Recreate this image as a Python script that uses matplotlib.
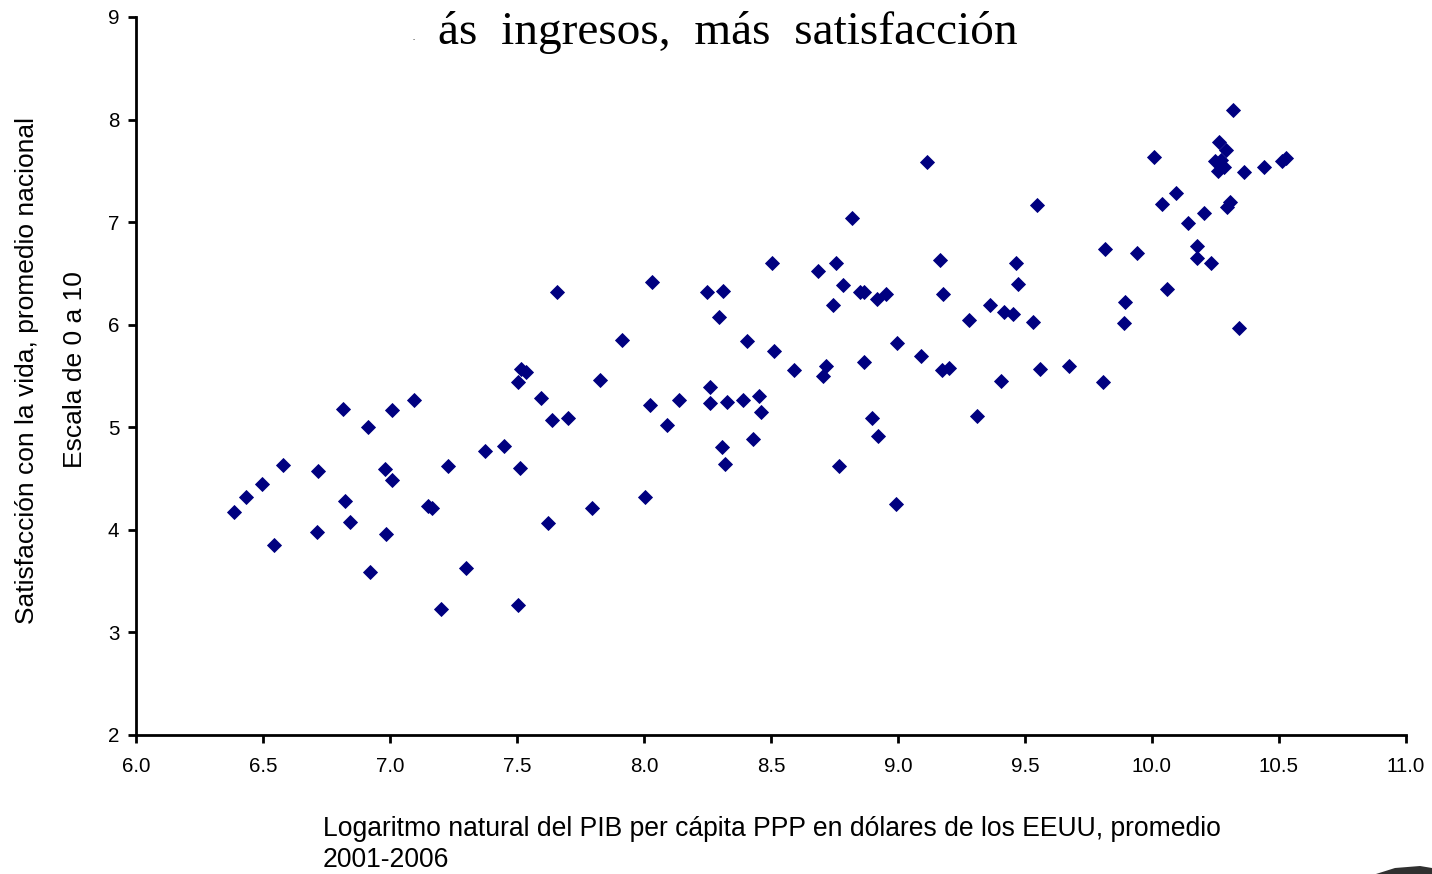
import matplotlib
matplotlib.use("Agg")
import matplotlib.pyplot as plt
from matplotlib.patches import Polygon

# Log GDP per capita (x) and life satisfaction (y)
log_gdp = [
    6.386, 6.433, 6.496, 6.579, 6.543, 6.717, 6.713, 6.815, 6.823, 6.843,
    6.913, 6.921, 6.980, 7.008, 6.984, 7.008, 7.094, 7.150, 7.165, 7.228,
    7.201, 7.299, 7.374, 7.449, 7.504, 7.512, 7.504, 7.516, 7.535, 7.594,
    7.622, 7.638, 7.657, 7.701, 7.795, 7.827, 7.913, 8.004, 8.024, 8.031,
    8.091, 8.138, 8.248, 8.311, 8.295, 8.260, 8.260, 8.327, 8.390, 8.307,
    8.319, 8.406, 8.429, 8.453, 8.461, 8.504, 8.512, 8.591, 8.685, 8.705,
    8.717, 8.756, 8.744, 8.783, 8.768, 8.819, 8.850, 8.866, 8.866, 8.898,
    8.917, 8.953, 8.921, 8.996, 8.992, 9.091, 9.114, 9.165, 9.177, 9.173,
    9.200, 9.280, 9.311, 9.362, 9.406, 9.417, 9.453, 9.465, 9.472, 9.531,
    9.547, 9.559, 9.673, 9.807, 9.815, 9.890, 9.894, 9.941, 10.008, 10.039,
    10.059, 10.094, 10.142, 10.177, 10.177, 10.205, 10.232, 10.264, 10.291, 10.248,
    10.272, 10.260, 10.283, 10.307, 10.295, 10.319, 10.343, 10.362, 10.441, 10.512,
    10.528,
]
satisfaction = [
    4.174, 4.320, 4.447, 4.632, 3.852, 4.574, 3.979, 5.178, 4.281, 4.077,
    5.000, 3.589, 4.593, 4.486, 3.960, 5.166, 5.266, 4.233, 4.213, 4.623,
    3.228, 3.628, 4.769, 4.817, 3.267, 4.603, 5.441, 5.568, 5.539, 5.285,
    4.067, 5.071, 6.319, 5.090, 4.213, 5.461, 5.851, 4.320, 5.217, 6.416,
    5.022, 5.266, 6.319, 6.329, 6.075, 5.393, 5.237, 5.246, 5.266, 4.808,
    4.642, 5.841, 4.886, 5.305, 5.149, 6.602, 5.744, 5.558, 6.524, 5.500,
    5.597, 6.602, 6.192, 6.387, 4.623, 7.040, 6.319, 6.319, 5.636, 5.090,
    6.251, 6.300, 4.915, 5.822, 4.252, 5.695, 7.586, 6.631, 6.300, 5.558,
    5.578, 6.046, 5.110, 6.192, 5.451, 6.124, 6.104, 6.602, 6.397, 6.026,
    7.167, 5.568, 5.597, 5.441, 6.738, 6.017, 6.221, 6.699, 7.635, 7.177,
    6.348, 7.284, 6.992, 6.767, 6.650, 7.089, 6.602, 7.781, 7.703, 7.596,
    7.606, 7.499, 7.538, 7.196, 7.148, 8.093, 5.968, 7.489, 7.538, 7.596,
    7.625,
]

x_ticks = [6.0, 6.5, 7.0, 7.5, 8.0, 8.5, 9.0, 9.5, 10.0, 10.5, 11.0]
x_tick_labels = ["6.0", "6.5", "7.0", "7.5", "8.0", "8.5", "9.0", "9.5", "10.0", "10.5", "11.0"]
y_ticks = [2, 3, 4, 5, 6, 7, 8, 9]

title_text = "ás  ingresos,  más  satisfacción"
ylabel_1 = "Satisfacción con la vida, promedio nacional"
ylabel_2 = "Escala de 0 a 10"
xlabel_line1 = "Logaritmo natural del PIB per cápita PPP en dólares de los EEUU, promedio"
xlabel_line2 = "2001-2006"

plt.rcParams['font.family'] = ['Liberation Sans', 'DejaVu Sans']

W, H = 1432, 874
fig = plt.figure(figsize=(W / 100, H / 100), dpi=100)
ax = fig.add_axes([136 / W, 1 - 735 / H, (1406 - 136) / W, (735 - 17) / H])

ax.plot(log_gdp, satisfaction, linestyle="none", marker="D", markersize=7.2,
        color="#000080", markeredgecolor="#000080", markeredgewidth=0.6, clip_on=False)

ax.set_xlim(6.0, 11.0)
ax.set_ylim(2, 9)
ax.set_xticks(x_ticks)
ax.set_xticklabels(x_tick_labels)
ax.set_yticks(y_ticks)
for s in ["top", "right"]:
    ax.spines[s].set_visible(False)
for s in ["left", "bottom"]:
    ax.spines[s].set_linewidth(2)
    ax.spines[s].set_color("black")
ax.tick_params(axis="both", direction="out", length=6, width=2, labelsize=14.8, colors="black")
ax.tick_params(axis="x", pad=10)
ax.tick_params(axis="y", pad=6)

# Axis labels
fig.text(27 / W, 1 - 371 / H, ylabel_1, rotation=90, ha="center", va="center", fontsize=19)
fig.text(75 / W, 1 - 370 / H, ylabel_2, rotation=90, ha="center", va="center", fontsize=19)
fig.text(323 / W, 1 - 829 / H, xlabel_line1, ha="left", va="center", fontsize=19.1)
fig.text(323 / W, 1 - 860 / H, xlabel_line2, ha="left", va="center", fontsize=19.1)

# Title (partially cut)
fig.text(438 / W, 1 - 33 / H, title_text, ha="left", va="center", fontsize=34,
         family=["Liberation Serif", "DejaVu Serif"])
fig.text(414 / W, 1 - 38 / H, ".", ha="center", va="center", fontsize=6,
         family=["Liberation Serif", "DejaVu Serif"])

# Cut-off logo fragment in the bottom-right corner
logo = Polygon([[1376 / W, 0], [1395 / W, 6 / H], [1420 / W, 8 / H], [1432 / W, 6 / H], [1432 / W, 0]],
               closed=True, transform=fig.transFigure, facecolor="#303030", edgecolor="none")
fig.patches.append(logo)

fig.savefig("out.png", dpi=100, facecolor="white")
